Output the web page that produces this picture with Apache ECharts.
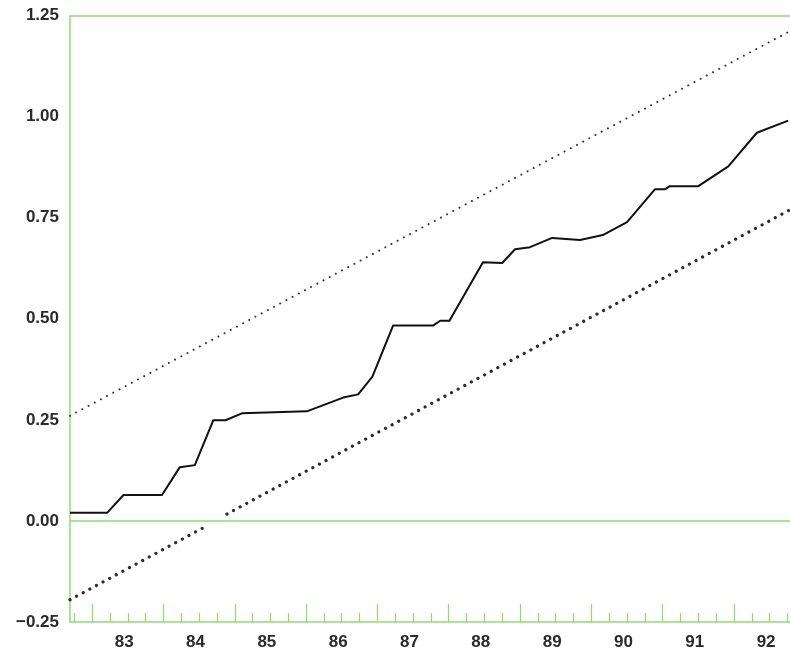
<!DOCTYPE html>
<html>
<head>
<meta charset="utf-8">
<script src="https://cdn.jsdelivr.net/npm/echarts@6/dist/echarts.min.js"></script>
<style>
  html, body { margin: 0; padding: 0; background: #ffffff; }
  #chart { width: 790px; height: 651px; }
</style>
</head>
<body>
<div id="chart"></div>
<script>
// Cumulative index, by year (x = year, fractional within the year)
const indexYears = [82.69, 83.21, 83.44, 83.98, 84.23, 84.44, 84.70, 84.87, 85.10, 86.01,
                    86.52, 86.73, 86.93, 87.22, 87.78, 87.88, 88.01, 88.48, 88.75, 88.93,
                    89.14, 89.45, 89.84, 90.16, 90.50, 90.89, 91.03, 91.10, 91.50, 91.92,
                    92.32, 92.76];
const indexValues = [0.020, 0.020, 0.064, 0.064, 0.133, 0.138, 0.249, 0.249, 0.266, 0.271,
                     0.305, 0.313, 0.357, 0.483, 0.483, 0.495, 0.495, 0.640, 0.638, 0.672,
                     0.677, 0.700, 0.695, 0.707, 0.739, 0.820, 0.820, 0.828, 0.828, 0.877,
                     0.960, 0.990];

// Upper and lower trend bands (straight lines; lower one broken where it crosses zero)
const upperYears = [82.69, 92.79];
const upperValues = [0.26, 1.212];
const lowerYears = [82.69, 84.61, null, 84.89, 92.79];
const lowerValues = [-0.195, -0.012, null, 0.017, 0.77];

// Axis ticks and labels
const yearLabels = [83, 84, 85, 86, 87, 88, 89, 90, 91, 92];
const yearTicks = [83, 84, 85, 86, 87, 88, 89, 90, 91, 92];
const quarterTicks = [82.75, 83.25, 83.5, 83.75, 84.25, 84.5, 84.75, 85.25, 85.5, 85.75,
                      86.25, 86.5, 86.75, 87.25, 87.5, 87.75, 88.25, 88.5, 88.75,
                      89.25, 89.5, 89.75, 90.25, 90.5, 90.75, 91.25, 91.5, 91.75,
                      92.25, 92.5, 92.75];
const yTicks = [-0.25, 0, 0.25, 0.5, 0.75, 1.0, 1.25];

const X_MIN = 82.69, X_MAX = 92.785;
const GREEN = '#8ede6c';
const FONT = "'Liberation Sans', Arial, Helvetica, sans-serif";
const TEXT = '#2a2a2a';

const pairs = (xs, ys) => xs.map((x, i) => (x === null ? [null, null] : [x, ys[i]]));

const chart = echarts.init(document.getElementById('chart'), null, { renderer: 'canvas' });

chart.setOption({
  backgroundColor: '#ffffff',
  animation: false,
  grid: { left: 70, right: 0, top: 15.5, bottom: 26, containLabel: false },
  xAxis: [
    {
      type: 'value', min: X_MIN, max: X_MAX, position: 'bottom', offset: 0,
      axisLine: { show: true, onZero: false, lineStyle: { color: GREEN, width: 1.5 } },
      axisTick: { show: true, inside: true, length: 18, customValues: yearTicks,
                  lineStyle: { color: GREEN, width: 1.2 } },
      axisLabel: { show: true, customValues: yearLabels.map(y => y + 0.45),
                   formatter: v => String(Math.floor(v)), margin: 12,
                   fontFamily: FONT, fontSize: 17, fontWeight: 'bold', color: TEXT },
      splitLine: { show: false }
    },
    {
      type: 'value', min: X_MIN, max: X_MAX, position: 'bottom', offset: 0,
      axisLine: { show: false, onZero: false },
      axisTick: { show: true, inside: true, length: 9, customValues: quarterTicks,
                  lineStyle: { color: GREEN, width: 1.2 } },
      axisLabel: { show: false },
      splitLine: { show: false }
    }
  ],
  yAxis: {
    type: 'value', min: -0.25, max: 1.25, interval: 0.25,
    axisLine: { show: true, onZero: false, lineStyle: { color: GREEN, width: 1.5 } },
    axisTick: { show: false },
    splitLine: { show: false },
    axisLabel: {
      customValues: yTicks, margin: 11, fontFamily: FONT, fontSize: 17,
      fontWeight: 'bold', color: TEXT,
      formatter: v => (v < 0 ? '\u2212' + Math.abs(v).toFixed(2) : v.toFixed(2))
    }
  },
  series: [
    {
      name: 'frame', type: 'line', data: [], silent: true,
      markLine: {
        silent: true, symbol: ['none', 'none'], label: { show: false },
        lineStyle: { color: GREEN, width: 1.5, type: 'solid' },
        data: [{ yAxis: 0 }, { yAxis: 1.25 }]
      }
    },
    {
      name: 'upper', type: 'line', data: pairs(upperYears, upperValues),
      showSymbol: false, symbol: 'none', silent: true,
      lineStyle: { color: '#333', width: 2, type: [0.01, 7], cap: 'round' }
    },
    {
      name: 'lower', type: 'line', data: pairs(lowerYears, lowerValues),
      showSymbol: false, symbol: 'none', silent: true, connectNulls: false,
      lineStyle: { color: '#2a2a2a', width: 3.2, type: [0.01, 7.5], cap: 'round' }
    },
    {
      name: 'index', type: 'line', data: pairs(indexYears, indexValues),
      showSymbol: false, symbol: 'none', silent: true,
      lineStyle: { color: '#111', width: 2, join: 'round' }
    }
  ]
});
</script>
</body>
</html>
